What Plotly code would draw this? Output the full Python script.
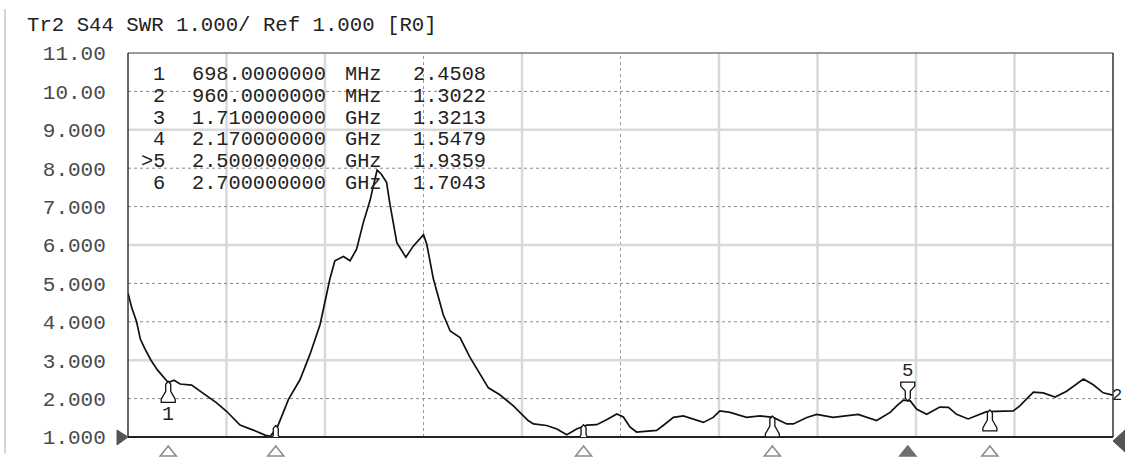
import plotly.graph_objects as go

# ---------------- data ----------------
freq_mhz = [600, 609, 621, 630, 641, 656, 672, 688, 698, 712, 727, 755, 792, 816, 840, 873, 905, 934, 946,
            962, 975, 991, 1019, 1044, 1068, 1084, 1092, 1104, 1125, 1141, 1157, 1173, 1190, 1198, 1207,
            1217, 1230, 1238, 1255, 1277, 1295, 1320, 1328, 1344, 1368, 1385, 1409, 1433, 1466, 1478,
            1506, 1539, 1575, 1588, 1620, 1645, 1669, 1693, 1718, 1742, 1766, 1791, 1807, 1823, 1839,
            1888, 1904, 1929, 1953, 1977, 2002, 2026, 2042, 2067, 2107, 2140, 2172, 2205, 2221, 2254,
            2278, 2318, 2351, 2379, 2424, 2457, 2473, 2489, 2506, 2522, 2546, 2578, 2599, 2619, 2647,
            2676, 2692, 2757, 2773, 2806, 2830, 2859, 2887, 2928, 2952, 2976, 3000]
swr = [4.75, 4.37, 4.0, 3.55, 3.3, 3.0, 2.74, 2.55, 2.42, 2.48, 2.38, 2.35, 2.07, 1.89, 1.67, 1.31, 1.18, 1.05, 1.02,
       1.21, 1.55, 1.98, 2.49, 3.17, 3.93, 4.78, 5.12, 5.59, 5.70, 5.59, 5.89, 6.57, 7.17, 7.55, 7.95,
       7.85, 7.63, 7.08, 6.06, 5.68, 5.97, 6.27, 6.02, 5.12, 4.19, 3.76, 3.59, 3.08, 2.49, 2.28,
       2.10, 1.81, 1.43, 1.34, 1.30, 1.21, 1.06, 1.21, 1.31, 1.32, 1.45, 1.60, 1.52, 1.26, 1.13,
       1.17, 1.30, 1.51, 1.55, 1.47, 1.38, 1.51, 1.68, 1.64, 1.51, 1.55, 1.51, 1.34, 1.34, 1.51,
       1.59, 1.51, 1.55, 1.59, 1.43, 1.64, 1.81, 1.96, 1.94, 1.72, 1.59, 1.78, 1.77, 1.59, 1.47,
       1.59, 1.66, 1.68, 1.81, 2.17, 2.15, 2.04, 2.19, 2.51, 2.36, 2.15, 2.09]

marker_ids = ["1", "2", "3", "4", ">5", "6"]
marker_freq_mhz = [698, 960, 1710, 2170, 2500, 2700]
marker_freq_text = ["698.0000000", "960.0000000", "1.710000000", "2.170000000", "2.500000000", "2.700000000"]
marker_units = ["MHz", "MHz", "GHz", "GHz", "GHz", "GHz"]
marker_values = [2.4508, 1.3022, 1.3213, 1.5479, 1.9359, 1.7043]
active_marker = 4

y_tick_vals = [1, 2, 3, 4, 5, 6, 7, 8, 9, 10, 11]
y_tick_text = ["1.000", "2.000", "3.000", "4.000", "5.000", "6.000", "7.000", "8.000", "9.000", "10.00", "11.00"]
start_mhz, stop_mhz = 600, 3000
title_text = "Tr2 S44 SWR 1.000/ Ref 1.000 [R0]"

# ---------------- layout geometry ----------------
W, H = 1125, 462
ML, MR, MT, MB = 128, 12, 53, 17
PW, PH = W - ML - MR, H - MT - MB
MONO = "Liberation Mono, DejaVu Sans Mono, monospace"


def px_x(p):
    return (p - ML) / PW


def px_y(p):
    return (H - MB - p) / PH


fig = go.Figure()

# grid
n_div = 10
step = (stop_mhz - start_mhz) / n_div
shapes = []
solid_v = {1, 2, 4, 6, 7, 8, 9}
for i in range(1, n_div):
    f = start_mhz + i * step
    if i in solid_v:
        shapes.append(dict(type="line", xref="x", yref="y", x0=f, x1=f, y0=1, y1=11,
                           line=dict(color="#d9d9d9", width=2.5), layer="below"))
    else:
        shapes.append(dict(type="line", xref="x", yref="y", x0=f, x1=f, y0=1, y1=11,
                           line=dict(color="#9a9a9a", width=1, dash="dot"), layer="below"))
for v in y_tick_vals[1:-1]:
    if v in (3, 6, 9):
        shapes.append(dict(type="line", xref="x", yref="y", x0=start_mhz, x1=stop_mhz, y0=v, y1=v,
                           line=dict(color="#d9d9d9", width=2.5), layer="below"))
    else:
        shapes.append(dict(type="line", xref="x", yref="y", x0=start_mhz, x1=stop_mhz, y0=v, y1=v,
                           line=dict(color="#8a8a8a", width=1, dash="dot"), layer="below"))

# frame
shapes += [
    dict(type="line", xref="paper", yref="paper", x0=0, x1=1, y0=1, y1=1, line=dict(color="#7a7a7a", width=1.5)),
    dict(type="line", xref="paper", yref="paper", x0=0, x1=0, y0=0, y1=1, line=dict(color="#333", width=1.5)),
    dict(type="line", xref="paper", yref="paper", x0=1, x1=1, y0=0, y1=1, line=dict(color="#333", width=1.5)),
    dict(type="line", xref="paper", yref="paper", x0=0, x1=1, y0=0, y1=0, line=dict(color="#222", width=2)),
    dict(type="line", xref="paper", yref="paper", x0=px_x(5), x1=px_x(5), y0=px_y(H), y1=px_y(8),
         line=dict(color="#c8c8c8", width=1.5)),
]

# reference position triangles (left / right of the plot)
shapes.append(dict(type="path", xref="paper", yref="paper", xsizemode="pixel", ysizemode="pixel",
                   xanchor=0, yanchor=0, path="M-11,7 L0,0 L-11,-8 Z",
                   fillcolor="#555", line=dict(color="#555", width=1)))
shapes.append(dict(type="path", xref="paper", yref="paper", xsizemode="pixel", ysizemode="pixel",
                   xanchor=1, yanchor=0, path="M0,-4 L12,7 L12,-15 Z",
                   fillcolor="#555", line=dict(color="#555", width=1)))

# trace
fig.add_trace(go.Scatter(x=freq_mhz, y=swr, mode="lines", line=dict(color="#111", width=1.7),
                         hoverinfo="skip", showlegend=False))

# marker glyphs on trace
below_path = "M0,0 L-2.5,-3 L-2.5,-10 L-7,-18 L-7,-21 L7,-21 L7,-18 L2.5,-10 L2.5,-3 Z"
above_path = "M0,0 L-2.5,3 L-2.5,10 L-7,15 L-7,19 L7,19 L7,15 L2.5,10 L2.5,3 Z"
for i, (f, v) in enumerate(zip(marker_freq_mhz, marker_values)):
    shapes.append(dict(type="path", xref="x", yref="y", xsizemode="pixel", ysizemode="pixel",
                       xanchor=f, yanchor=v, path=above_path if i == active_marker else below_path,
                       fillcolor="white", line=dict(color="#111", width=1.3)))

# marker position triangles under the axis (partly cut by the bottom edge)
for i, f in enumerate(marker_freq_mhz):
    active = i == active_marker
    shapes.append(dict(type="path", xref="x", yref="paper", xsizemode="pixel", ysizemode="pixel",
                       xanchor=f, yanchor=0, path="M-8,-19 L0,-9 L8,-19 Z",
                       fillcolor="#6e6e6e" if active else "rgba(255,255,255,0)",
                       line=dict(color="#6e6e6e" if active else "#8c8c8c", width=1.6)))

annotations = []
# title
annotations.append(dict(xref="paper", yref="paper", x=px_x(25), y=px_y(25), xanchor="left", yanchor="middle",
                        text=title_text, showarrow=False, font=dict(family=MONO, size=20.7, color="#222")))
# marker readout table
row_y0, row_dy = 75, 22.2
for i in range(len(marker_ids)):
    yy = px_y(row_y0 + i * row_dy)
    fnt = dict(family=MONO, size=20.3, color="#222")
    annotations.append(dict(xref="paper", yref="paper", x=px_x(166), y=yy, xanchor="right", yanchor="middle",
                            text=marker_ids[i], showarrow=False, font=fnt, borderpad=0))
    annotations.append(dict(xref="paper", yref="paper", x=px_x(191), y=yy, xanchor="left", yanchor="middle",
                            text=marker_freq_text[i], showarrow=False, font=fnt, borderpad=0))
    annotations.append(dict(xref="paper", yref="paper", x=px_x(344), y=yy, xanchor="left", yanchor="middle",
                            text=marker_units[i], showarrow=False, font=fnt, borderpad=0))
    annotations.append(dict(xref="paper", yref="paper", x=px_x(412), y=yy, xanchor="left", yanchor="middle",
                            text=f"{marker_values[i]:.4f}", showarrow=False, font=fnt, borderpad=0))

# marker labels near trace
annotations.append(dict(xref="x", yref="y", x=marker_freq_mhz[0], y=marker_values[0], yshift=-33,
                        text="1", showarrow=False, font=dict(family=MONO, size=20, color="#222")))
annotations.append(dict(xref="x", yref="y", x=marker_freq_mhz[active_marker], y=marker_values[active_marker],
                        yshift=30, text="5", showarrow=False, font=dict(family=MONO, size=19, color="#222")))
# trace end indicator
annotations.append(dict(xref="x", yref="y", x=freq_mhz[-1], y=swr[-1], xanchor="left", xshift=-3,
                        text="2", showarrow=False, font=dict(family=MONO, size=17, color="#222")))

fig.update_layout(
    width=W, height=H, margin=dict(l=ML, r=MR, t=MT, b=MB, pad=0),
    paper_bgcolor="white", plot_bgcolor="white",
    shapes=shapes, annotations=annotations,
    xaxis=dict(range=[start_mhz, stop_mhz], showgrid=False, zeroline=False, showline=False,
               showticklabels=False, ticks=""),
    yaxis=dict(range=[y_tick_vals[0], y_tick_vals[-1]], tickvals=y_tick_vals, ticktext=y_tick_text,
               showgrid=False, zeroline=False, showline=False, ticks="outside", ticklen=17,
               tickcolor="rgba(0,0,0,0)", tickfont=dict(family=MONO, size=21, color="#4a4a4a")),
    showlegend=False,
)

fig.write_html("out.html", config={"displayModeBar": False},
               post_script="document.body.style.margin='0';document.body.style.overflow='hidden';")
